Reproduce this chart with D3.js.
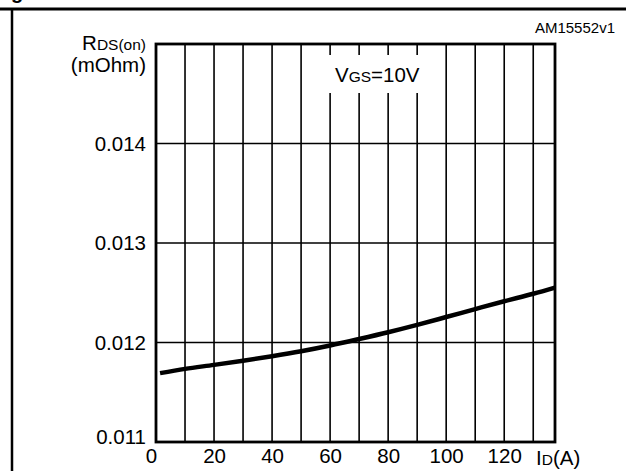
<!DOCTYPE html>
<html>
<head>
<meta charset="utf-8">
<script src="https://cdn.jsdelivr.net/npm/d3@7"></script>
<style>
  body { margin: 0; background: #fff; }
  svg { display: block; font-family: 'Liberation Sans', Arial, Helvetica, sans-serif; }
</style>
</head>
<body>
<div id="chart"></div>
<script>
// drain current (A) and on-resistance
var idValues = [1.4, 10, 20, 30, 40, 50, 60, 70, 80, 90, 100, 110, 120, 130, 137.5];
var rdsValues = [0.011692, 0.011735, 0.011775, 0.011817, 0.011862, 0.011912, 0.011970,
                 0.012035, 0.012103, 0.012177, 0.012256, 0.012336, 0.012415, 0.012490, 0.012552];
var xTicks = [0, 20, 40, 60, 80, 100, 120];
var xGrid = [10, 20, 30, 40, 50, 60, 70, 80, 90, 100, 110, 120, 130];
var yTicks = [0.011, 0.012, 0.013, 0.014];

var width = 626, height = 471;
var margin = { top: 44, left: 156, bottom: 29, right: 71 };
var w = width - margin.left - margin.right;
var h = height - margin.top - margin.bottom;

var root = d3.select("#chart").append("svg")
    .attr("width", width)
    .attr("height", height);

// outer page frame
root.append("line").attr("x1", 0).attr("x2", width).attr("y1", 9).attr("y2", 9)
    .style("stroke", "#000").style("stroke-width", 2.8);
root.append("line").attr("x1", 12).attr("x2", 12).attr("y1", 9).attr("y2", height)
    .style("stroke", "#000").style("stroke-width", 2.5);
// clipped title descender
root.append("text").attr("x", 11).attr("y", -1)
    .style("font-size", "20px").style("font-weight", "bold").text("g");

root.append("text")
    .attr("x", 615).attr("y", 33)
    .style("text-anchor", "end")
    .style("font-size", "15px")
    .text("AM15552v1");

var svg = root.append("g")
    .attr("transform", "translate(" + margin.left + "," + margin.top + ")");

var x = d3.scaleLinear().domain([0, 137.5]).range([0, w]);
var y = d3.scaleLinear().domain([0.011, 0.015]).range([h, 0]);

// grid
svg.append("g")
    .selectAll("line")
    .data(xGrid)
    .join("line")
    .attr("x1", d => x(d)).attr("x2", d => x(d))
    .attr("y1", 0).attr("y2", h)
    .style("stroke", "#000").style("stroke-width", 1.6);

svg.append("g")
    .selectAll("line")
    .data(yTicks.slice(1))
    .join("line")
    .attr("x1", 0).attr("x2", w)
    .attr("y1", d => y(d)).attr("y2", d => y(d))
    .style("stroke", "#000").style("stroke-width", 1.6);

// white patch behind the condition label
svg.append("rect")
    .attr("x", 326 - margin.left).attr("y", 55 - margin.top)
    .attr("width", 102).attr("height", 38)
    .style("fill", "#fff");

var vgs = svg.append("text")
    .attr("x", 335 - margin.left).attr("y", 82 - margin.top)
    .style("font-size", "20.5px");
vgs.append("tspan").text("V");
vgs.append("tspan").style("font-size", "15.5px").text("GS");
vgs.append("tspan").text("=10V");

// plot frame
svg.append("rect")
    .attr("width", w).attr("height", h)
    .style("fill", "none").style("stroke", "#000").style("stroke-width", 2.8);

// curve
var valueline = d3.line()
    .x(function (d, i) { return x(idValues[i]); })
    .y(function (d) { return y(d); })
    .curve(d3.curveMonotoneX);

svg.append("path")
    .datum(rdsValues)
    .style("fill", "none")
    .style("stroke", "#000")
    .style("stroke-width", 4.5)
    .attr("d", valueline);

// axes (labels only, lines drawn by frame/grid)
svg.append("g")
    .attr("transform", "translate(0," + h + ")")
    .style("font-size", "20.5px")
    .call(d3.axisBottom(x).tickValues(xTicks).tickSize(0).tickPadding(6)
        .tickFormat(d3.format("d")))
    .call(g => g.select(".domain").remove())
    .call(g => g.selectAll("text").style("fill", "#000")
        .attr("font-family", null).attr("font-size", null)
        .attr("dx", d => d === 0 ? "-5px" : "0"));

svg.append("g")
    .style("font-size", "20.5px")
    .call(d3.axisLeft(y).tickValues(yTicks).tickSize(0).tickPadding(10)
        .tickFormat(d3.format(".3f")))
    .call(g => g.select(".domain").remove())
    .call(g => g.selectAll("text").style("fill", "#000")
        .attr("font-family", null).attr("font-size", null)
        .attr("dy", d => d === 0.011 ? "0.05em" : "0.32em"));

// axis titles
var yt = svg.append("text")
    .attr("x", -10).attr("y", 50 - margin.top)
    .style("text-anchor", "end")
    .style("font-size", "20.5px");
yt.append("tspan").text("R");
yt.append("tspan").style("font-size", "15.5px").text("DS(on)");

svg.append("text")
    .attr("x", -10).attr("y", 72 - margin.top)
    .style("text-anchor", "end")
    .style("font-size", "20.5px")
    .text("(mOhm)");

var xt = svg.append("text")
    .attr("x", 536 - margin.left).attr("y", 465 - margin.top)
    .style("font-size", "20.5px");
xt.append("tspan").text("I");
xt.append("tspan").style("font-size", "15.5px").text("D");
xt.append("tspan").text("(A)");
</script>
</body>
</html>
